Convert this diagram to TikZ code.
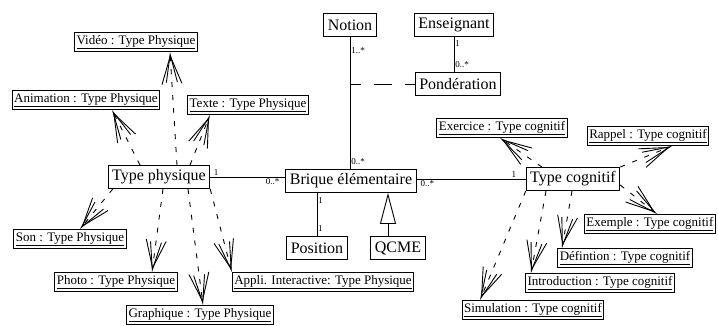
\documentclass[tikz,border=0pt]{standalone}
\usepackage{fontspec}
\setmainfont{Liberation Serif}
\usetikzlibrary{arrows.meta}

\begin{document}
\begin{tikzpicture}[x=1pt,y=-1pt,
	classbox/.style={draw, line width=0.9pt, font=\fontsize{16}{18}\selectfont, minimum height=23pt, inner xsep=4pt, inner ysep=1pt},
	objbox/.style={draw, line width=0.9pt, font=\fontsize{13}{15}\selectfont, minimum height=19pt, inner xsep=2pt, inner ysep=1pt},
	link/.style={line width=0.9pt},
	dep/.style={line width=0.9pt, dash pattern=on 5pt off 8pt, -{Straight Barb[length=28pt,width=20pt,sep=-28pt]Straight Barb[length=28pt,width=11pt]}},
	mult/.style={font=\fontsize{9}{10}\selectfont, inner sep=1pt}]
	\useasboundingbox (0,0) rectangle (718,325);

	% classes
	\node[classbox] (notion) at (350,25) {Notion};
	\node[classbox] (ens) at (454,25) {Enseignant};
	\node[classbox] (pond) at (458,84) {Pondération};
	\node[classbox] (tphys) at (159,177) {Type physique};
	\node[classbox] (brique) at (351,181) {Brique élémentaire};
	\node[classbox] (tcog) at (573,179) {Type cognitif};
	\node[classbox] (position) at (317,248) {Position};
	\node[classbox] (qcme) at (398,248) {QCME};

	% objets physiques
	\node[objbox] (vid) at (136,42) {\underline{Vidéo : Type Physique}};
	\node[objbox] (anim) at (86,100) {\underline{Animation : Type Physique}};
	\node[objbox] (texte) at (248,105) {\underline{Texte : Type Physique}};
	\node[objbox] (son) at (70,239) {\underline{Son : Type Physique}};
	\node[objbox] (photo) at (116,282) {\underline{Photo : Type Physique}};
	\node[objbox] (graph) at (200,315) {\underline{Graphique : Type Physique}};
	\node[objbox] (appli) at (323,282) {\underline{Appli. Interactive: Type Physique}};

	% objets cognitifs
	\node[objbox] (exer) at (502,128) {\underline{Exercice : Type cognitif}};
	\node[objbox] (rappel) at (648,136) {\underline{Rappel : Type cognitif}};
	\node[objbox, anchor=west] (exemple) at (584,224) {\underline{Exemple : Type cognitif}};
	\node[objbox] (defin) at (625,258) {\underline{Défintion : Type cognitif}};
	\node[objbox] (intro) at (600,283) {\underline{Introduction : Type cognitif}};
	\node[objbox] (simul) at (533,310) {\underline{Simulation : Type cognitif}};

	% associations
	\draw[link] (tphys.east) -- node[mult, pos=0.08, above] (m1) {1} node[mult, pos=0.83, below] (m2) {0..*} (tphys.east -| brique.west);
	\draw[link] (brique.east |- tcog.west) -- node[mult, pos=0.1, below] (m3) {0..*} node[mult, pos=0.89, above] (m4) {1} (tcog.west);
	\draw[link] (notion.south) -- node[mult, pos=0.1, right] (m5) {1..*} node[mult, pos=0.94, right] (m6) {0..*} (notion.south |- brique.north);
	\draw[link] (ens.south) -- node[mult, pos=0.2, right] (m7) {1} node[mult, pos=0.78, right] (m8) {0..*} (ens.south |- pond.north);
	\draw[link] (position.north |- brique.south) -- node[mult, pos=0.18, right] (m9) {1} node[mult, pos=0.82, right] (m10) {1} (position.north);
	\coordinate (assoc) at (notion.south |- pond.west);
	\draw[link, dash pattern=on 18pt off 13pt, dash phase=7pt] (assoc) -- (pond.west);
	\draw[link, -{Triangle[open, length=31pt, width=16pt]}] ([xshift=-10pt]qcme.north) -- ([xshift=-10pt]qcme.north |- brique.south);

	% instances Type physique
	\draw[dep] ([xshift=18pt]tphys.north) -- ([xshift=34pt]vid.south);
	\draw[dep] ([xshift=-19pt]tphys.north) -- ([xshift=26pt]anim.south);
	\draw[dep] ([xshift=31pt]tphys.north) -- ([xshift=-38pt]texte.south);
	\draw[dep] ([xshift=5pt]tphys.south west) -- ([xshift=10pt]son.north);
	\draw[dep] ([xshift=4pt]tphys.south) -- ([xshift=36pt]photo.north);
	\draw[dep] ([xshift=29pt]tphys.south) -- ([xshift=3pt]graph.north);
	\draw[dep] (tphys.south east) -- (appli.north west);

	% instances Type cognitif
	\draw[dep] ([xshift=-31pt]tcog.north) -- ([xshift=-2pt]exer.south);
	\draw[dep] (tcog.north east) -- ([xshift=24pt]rappel.south);
	\draw[dep] ([yshift=-6pt]tcog.east) -- ([xshift=73pt]exemple.north west);
	\draw[dep] ([xshift=-1pt]tcog.south) -- ([xshift=-63pt]defin.north);
	\draw[dep] ([xshift=-27pt]tcog.south) -- ([xshift=-69pt]intro.north);
	\draw[dep] (tcog.south west) -- ([xshift=-53pt]simul.north);
\end{tikzpicture}
\end{document}
